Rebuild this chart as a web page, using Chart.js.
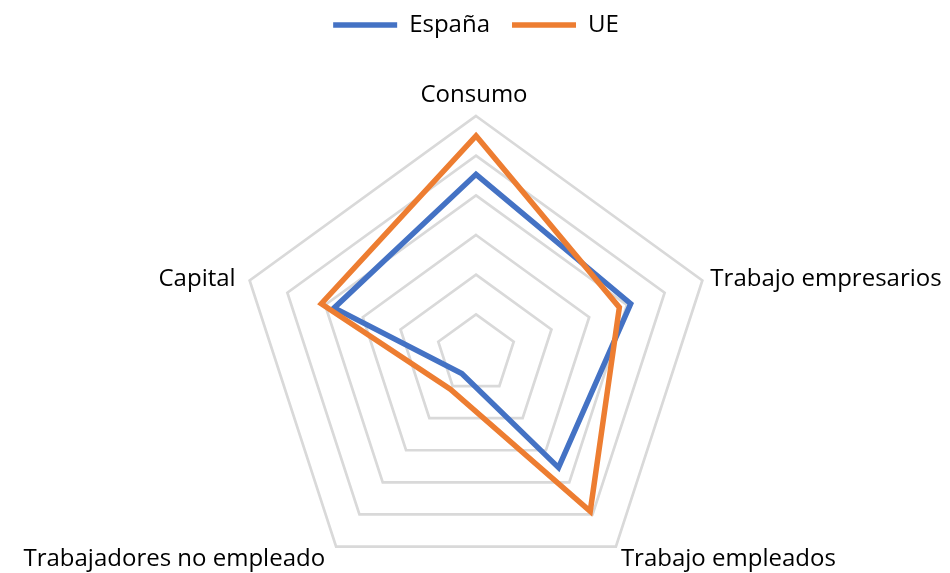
<!DOCTYPE html>
<html>
<head>
<meta charset="utf-8">
<title>España vs UE</title>
<script src="https://cdn.jsdelivr.net/npm/chart.js@4.4.1/dist/chart.umd.min.js"></script>
<style>
html,body{margin:0;padding:0;background:#fff}
</style>
</head>
<body>
<canvas id="chart" width="950" height="573"></canvas>
<script>
// Datos
var categories = ['Consumo', 'Trabajo empresarios', 'Trabajo empleados', 'Trabajadores no empleado', 'Capital'];
var seriesNames = ['España', 'UE'];
var espana = [45.3, 41, 35.4, 6.1, 37.6];
var ue = [55, 38, 49, 11, 41];
var scaleMin = 0, scaleMax = 60, scaleStep = 10;

var FONT = '"Open Sans", "Noto Sans", sans-serif';

// etiquetas de los ejes, dibujadas a mano junto a cada vertice
var axisLabels = {
  id: 'axisLabels',
  afterDraw: function(chart){
    var sc = chart.scales.r;
    var ctx = chart.ctx;
    ctx.save();
    ctx.font = '24px ' + FONT;
    ctx.fillStyle = '#000';
    ctx.textBaseline = 'alphabetic';
    categories.forEach(function(txt, i){
      var p = sc.getPointPosition(i, sc.drawingArea);
      var dx = p.x - sc.xCenter, dy = p.y - sc.yCenter;
      var x = p.x, y = p.y;
      if (Math.abs(dx) < 1){
        ctx.textAlign = 'center';
        x -= 2; y -= 14;
      } else if (dy < 0){
        ctx.textAlign = dx > 0 ? 'left' : 'right';
        x += dx > 0 ? 8 : -14;
        y += 6;
      } else {
        ctx.textAlign = dx > 0 ? 'left' : 'right';
        x += dx > 0 ? 5 : -11;
        y += 19;
      }
      ctx.fillText(txt, x, y);
    });
    ctx.restore();
  }
};

var ctx = document.getElementById('chart').getContext('2d');
var chart = new Chart(ctx, {
  type: 'radar',
  data: {
    labels: categories,
    datasets: [{
      label: seriesNames[0],
      data: espana,
      borderColor: '#4472C4',
      backgroundColor: '#4472C4',
      borderWidth: 5.5,
      borderCapStyle: 'round',
      fill: false,
      pointRadius: 0,
      order: 1
    }, {
      label: seriesNames[1],
      data: ue,
      borderColor: '#ED7D31',
      backgroundColor: '#ED7D31',
      borderWidth: 5.5,
      borderCapStyle: 'round',
      fill: false,
      pointRadius: 0,
      order: 0
    }]
  },
  options: {
    responsive: false,
    animation: false,
    layout: { padding: { left: 238, right: 236, top: -9, bottom: 0 } },
    plugins: {
      tooltip: { enabled: false },
      legend: {
        position: 'top',
        labels: {
          usePointStyle: true,
          pointStyle: 'line',
          pointStyleWidth: 64,
          padding: 22,
          color: '#000',
          font: { family: FONT, size: 24 },
          sort: function(a, b){ return a.datasetIndex - b.datasetIndex; }
        }
      }
    },
    scales: {
      r: {
        min: scaleMin,
        max: scaleMax,
        ticks: { display: false, stepSize: scaleStep },
        grid: { circular: false, color: '#d9d9d9', lineWidth: 2.7 },
        angleLines: { display: false },
        pointLabels: { display: false },
        // el poligono es mas alto que el area libre: se fija el radio por el ancho
        // y se baja el centro para dejar sitio a las etiquetas inferiores
        afterFit: function(scale){
          scale.drawingArea = Math.floor(scale.width / 2);
          scale.yCenter = Math.round(scale.bottom - 219);
        }
      }
    }
  },
  plugins: [axisLabels]
});
</script>
</body>
</html>
